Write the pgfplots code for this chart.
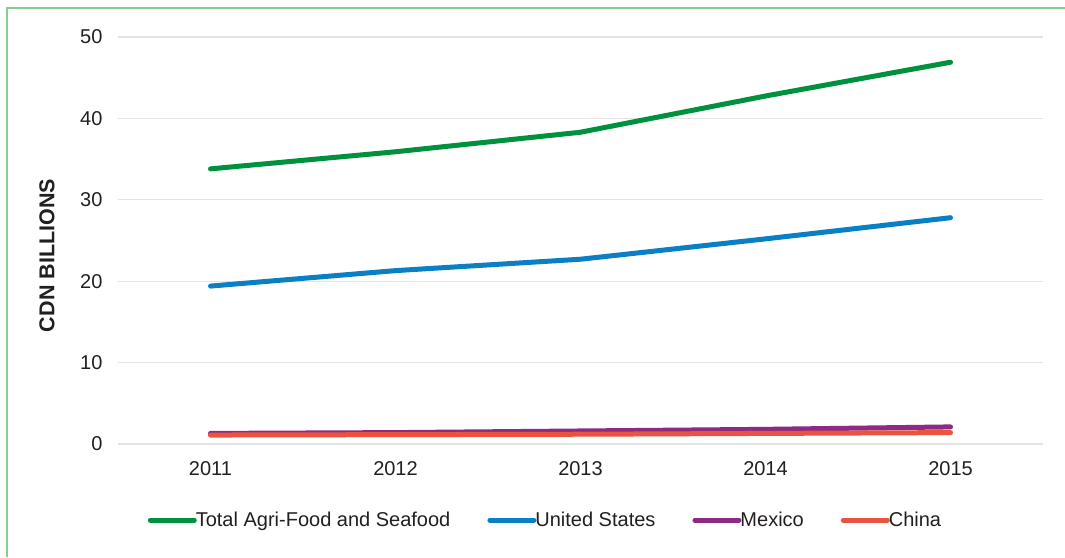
\documentclass[border=0pt]{standalone}
\usepackage{pgfplots}
\pgfplotsset{compat=1.18}
\usepackage{fontspec}
\setmainfont{Liberation Sans}
\definecolor{cgreen}{HTML}{00913F}
\definecolor{cblue}{HTML}{0A7FC4}
\definecolor{cpurple}{HTML}{8C2A84}
\definecolor{cred}{HTML}{E9533F}
\definecolor{cframe}{HTML}{86CF8C}
\definecolor{cgrid}{HTML}{E3E3E3}
\definecolor{ctext}{HTML}{231F20}
\begin{document}
\begin{tikzpicture}
\path[use as bounding box] (0,0) rectangle (1065pt,557pt);
\draw[cframe, line width=1.5pt] (7pt,0) -- (7pt,549pt) -- (1065pt,549pt);
\begin{axis}[
  at={(118pt,113pt)}, anchor=south west,
  scale only axis, width=925pt, height=407pt,
  xmin=2010.5, xmax=2015.5, ymin=0, ymax=50,
  xtick={2011,2012,2013,2014,2015},
  xticklabels={2011,2012,2013,2014,2015},
  ytick={0,10,20,30,40,50},
  axis line style={draw=none},
  ymajorgrids, grid style={cgrid, line width=1.2pt},
  major tick length=0pt,
  tick label style={font=\fontsize{20}{22}\selectfont, text=ctext},
  /pgf/number format/assume math mode=true,
  yticklabel style={xshift=-12pt},
  xticklabel style={yshift=-14pt},
  every axis y label/.style={at={(rel axis cs:-0.0768,0.463)}, rotate=90, anchor=center},
  ylabel={\textbf{CDN BILLIONS}},
  label style={font=\fontsize{21.5}{24}\selectfont, text=ctext},
  legend style={at={(0.032,-0.187)}, anchor=west, draw=none, fill=none,
    font=\fontsize{20}{22}\selectfont, text=ctext, legend columns=-1,
    /tikz/every even column/.append style={column sep=35pt},
    inner sep=0pt},
  legend image code/.code={\draw[line width=5pt, line cap=round] (0pt,0pt) -- (44pt,0pt);},
  every axis plot/.append style={line width=5pt, line cap=round, line join=round, mark=none},
]
\addplot[cgreen] coordinates {(2011,33.8) (2012,35.9) (2013,38.3) (2014,42.75) (2015,46.9)};
\addlegendentry{\hspace{-3pt}Total Agri-Food and Seafood}
\addplot[cblue] coordinates {(2011,19.4) (2012,21.3) (2013,22.7) (2014,25.2) (2015,27.8)};
\addlegendentry{\hspace{-3pt}United States}
\addplot[cpurple] coordinates {(2011,1.3) (2012,1.4) (2013,1.6) (2014,1.8) (2015,2.1)};
\addlegendentry{\hspace{-3pt}Mexico}
\addplot[cred] coordinates {(2011,1.1) (2012,1.15) (2013,1.2) (2014,1.3) (2015,1.4)};
\addlegendentry{\hspace{-3pt}China}
\end{axis}
\end{tikzpicture}
\end{document}
